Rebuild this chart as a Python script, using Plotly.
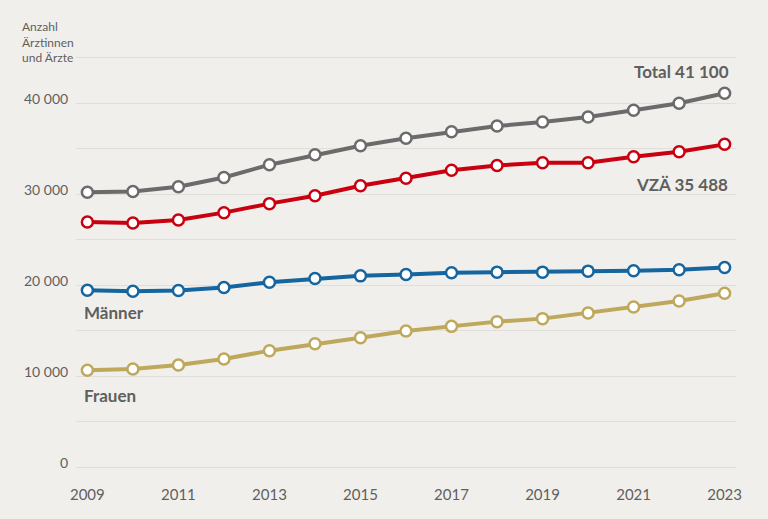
import plotly.graph_objects as go

# data (number of doctors)
years = list(range(2009, 2024))
total = [30230, 30310, 30830, 31850, 33250, 34350, 35340, 36150, 36880, 37500,
         37940, 38490, 39230, 40000, 41100]
vza = [26950, 26840, 27170, 27980, 28970, 29830, 30940, 31770, 32650, 33170,
       33470, 33470, 34130, 34680, 35488]
maenner = [19450, 19350, 19420, 19760, 20340, 20740, 21030, 21180, 21370, 21440,
           21440, 21550, 21590, 21700, 21960]
frauen = [10650, 10800, 11240, 11900, 12810, 13570, 14230, 14970, 15480, 16000,
          16330, 16950, 17600, 18270, 19120]

y_ticks = [0, 10000, 20000, 30000, 40000]
y_tick_text = ["0", "10 000", "20 000", "30 000", "40 000"]
x_ticks = [2009, 2011, 2013, 2015, 2017, 2019, 2021, 2023]

bg = "#f1efec"
txt = "#5f5f5f"
font = "Lato"
y_min, y_max = -200, 45200

series = [
    ("Total", total, "#6b6b6b"),
    ("VZÄ", vza, "#c8000f"),
    ("Männer", maenner, "#15659f"),
    ("Frauen", frauen, "#bea85b"),
]

fig = go.Figure()
for name, vals, col in series:
    fig.add_trace(go.Scatter(
        x=years, y=vals, name=name, mode="lines+markers",
        line=dict(color=col, width=4),
        marker=dict(size=11, color="white", line=dict(color=col, width=2.5)),
        hoverinfo="x+y"))

# y tick labels sit a little above their gridlines
for v, t in zip(y_ticks, y_tick_text):
    fig.add_annotation(x=-0.009, xref="paper", y=v, yref="y", text=t,
                       showarrow=False, xanchor="right", yanchor="middle",
                       yshift=5, font=dict(size=14, color=txt, family=font))

lab = dict(size=17, color=txt, family=font, weight="bold")
fig.add_annotation(x=2023, y=43500, text="Total 41 100", showarrow=False,
                   xanchor="right", xshift=6, font=lab)
fig.add_annotation(x=2023, y=31060, text="VZÄ 35 488", showarrow=False,
                   xanchor="right", xshift=5, font=lab)
fig.add_annotation(x=2009, y=16960, text="Männer", showarrow=False,
                   xanchor="left", xshift=-5, font=lab)
fig.add_annotation(x=2009, y=7930, text="Frauen", showarrow=False,
                   xanchor="left", xshift=-5, font=lab)

# axis caption above the top gridline
fig.add_annotation(x=(20 - 76) / 660, xref="paper",
                   y=(47000 - y_min) / (y_max - y_min), yref="paper",
                   text="Anzahl<br>Ärztinnen<br>und Ärzte", showarrow=False,
                   align="left", xanchor="left", yanchor="middle", yshift=-2,
                   font=dict(size=12, color=txt, family=font))

fig.update_layout(
    width=768, height=519,
    margin=dict(l=76, r=32, t=56, b=50),
    paper_bgcolor=bg, plot_bgcolor=bg,
    showlegend=False,
    font=dict(family=font, color=txt),
    xaxis=dict(range=[2008.75, 2023.25], tickvals=x_ticks,
               showgrid=False, zeroline=False, showline=False,
               ticks="outside", ticklen=12, tickcolor="rgba(0,0,0,0)",
               tickfont=dict(size=15, color=txt, family=font)),
    yaxis=dict(range=[y_min, y_max], tickvals=list(range(0, 45001, 5000)),
               showticklabels=False,
               gridcolor="#e1ded9", gridwidth=1, zeroline=False,
               showline=False),
)

fig.write_html("out.html", config={"displayModeBar": False},
               post_script="document.body.style.margin='0';")
